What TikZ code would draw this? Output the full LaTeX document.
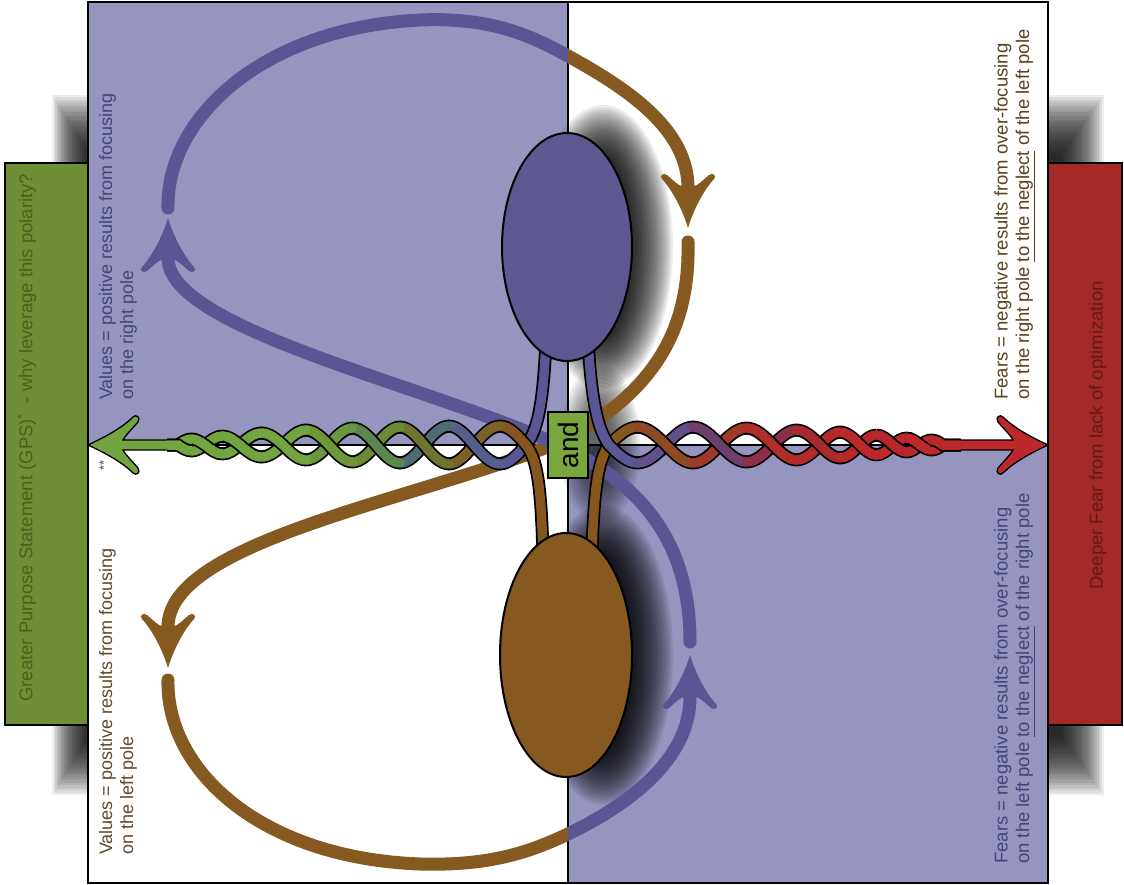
\documentclass[tikz,border=0pt]{standalone}
\usepackage{fontspec}
\setmainfont{Liberation Sans}
\usetikzlibrary{shapes.geometric}
\definecolor{lav}{HTML}{9695C0}
\definecolor{purp}{HTML}{5A5593}
\definecolor{purpE}{HTML}{5E5890}
\definecolor{brn}{HTML}{85591F}
\definecolor{grnbox}{HTML}{6F8F36}
\definecolor{grntxt}{HTML}{44641A}
\definecolor{redbox}{HTML}{A32A27}
\definecolor{redtxt}{HTML}{661A18}
\definecolor{andgrn}{HTML}{7AA63F}
\definecolor{txtP}{HTML}{45447A}
\definecolor{txtB}{HTML}{5E4A2C}
\definecolor{txtTR}{HTML}{5A4320}
\definecolor{LG}{HTML}{72A43F}
\definecolor{RR}{HTML}{BC282B}
\definecolor{LP0}{HTML}{5B5794}\definecolor{LP1}{HTML}{555F8C}\definecolor{LP2}{HTML}{4F6B74}
\definecolor{LP3}{HTML}{5C8550}\definecolor{LP4}{HTML}{6A9840}\definecolor{LP5}{HTML}{72A43F}
\definecolor{LB0}{HTML}{85571F}\definecolor{LB1}{HTML}{7A6228}\definecolor{LB2}{HTML}{6F7430}
\definecolor{LB3}{HTML}{6A8A35}\definecolor{LB4}{HTML}{6C9838}\definecolor{LB5}{HTML}{72A43F}
\definecolor{RP0}{HTML}{5B5794}\definecolor{RP1}{HTML}{61508A}\definecolor{RP2}{HTML}{6E3F6C}
\definecolor{RP3}{HTML}{8B3048}\definecolor{RP4}{HTML}{A62A30}\definecolor{RP5}{HTML}{B8282B}
\definecolor{RB0}{HTML}{85571F}\definecolor{RB1}{HTML}{8E4A24}\definecolor{RB2}{HTML}{A03A28}
\definecolor{RB3}{HTML}{AE2E2A}\definecolor{RB4}{HTML}{B5292B}\definecolor{RB5}{HTML}{BC282B}
\newcommand\braidpc[2]{\draw[line width=13pt, black, shorten <=-0.8pt, shorten >=-0.8pt] #2; \draw[line width=9.5pt, line cap=round, #1] #2;}
\newcommand\qtxt{\fontsize{18}{21}\selectfont}
\newcommand\rtxt{\fontsize{18.5}{21.5}\selectfont}
\newcommand\stxt{\fontsize{18.5}{21}\selectfont}
\tikzset{
  tulip/.pic={\fill (0,0) .. controls (-4,14) and (-14,36) .. (-26,49) .. controls (-29,52) and (-25,56) .. (-21,53) .. controls (-14,47) and (-9,42) .. (-6,42) -- (6,42) .. controls (9,42) and (14,47) .. (21,53) .. controls (25,56) and (29,52) .. (26,49) .. controls (14,36) and (4,14) .. (0,0) -- cycle;},
  loopline/.style={line width=13pt, line cap=round},
  sidetext/.style={rotate=90, anchor=north west, inner sep=0pt, align=left}
}
\begin{document}
\begin{tikzpicture}[x=1pt,y=-1pt]
\useasboundingbox (0,0) rectangle (1124,885);
% frame shadows
\foreach \i in {0,...,24}{
  \fill[black, opacity=0.07] (52+1.5*\i, 95+2.5*\i) rectangle (92, 795-2.5*\i);
  \fill[black, opacity=0.07] (1044, 95+2.5*\i) rectangle (1104-1.8*\i, 795-2.5*\i);
}
% side boxes
\draw[fill=grnbox, line width=1.5pt] (5,163) rectangle (90,725);
\draw[fill=redbox, line width=1.5pt] (1046,163) rectangle (1122,725);
% quadrants
\fill[white] (88,2) rectangle (1048,883);
\fill[lav] (88,2) rectangle (568,445);
\fill[lav] (568,445) rectangle (1048,883);
\draw[line width=1.5pt] (568,2) -- (568,883);
\draw[line width=1.5pt] (88,445) -- (1048,445);
\draw[line width=2.5pt] (88,2) rectangle (1048,883);
% soft shadows
\foreach \i in {0,...,23}{
  \fill[black, opacity=0.075] (603,247) ellipse [x radius=70-2*\i, y radius=142-2.5*\i];
  \fill[black, opacity=0.075] (603,655) ellipse [x radius=70-2*\i, y radius=150-2.5*\i];
}
\foreach \i in {0,...,11}{
  \fill[black, opacity=0.07] (600,445) ellipse [x radius=40-2.5*\i, y radius=80-4*\i];
}
% named arrow tips
\coordinate (tipA) at (168,218);
\coordinate (tipB) at (688,228);
\coordinate (tipC) at (168,668);
\coordinate (tipD) at (690,655);
% loops, colour changing at the centre line
\begin{scope}
\clip (0,0) rectangle (568,885);
\draw[loopline, purp] (168,208) .. controls (166,120) and (260,28) .. (420,20) .. controls (490,17) and (530,35) .. (568,56) .. controls (630,90) and (688,130) .. (688,188);
\draw[loopline, brn] (168,680) .. controls (166,770) and (260,858) .. (420,864) .. controls (490,866) and (530,852) .. (568,834) .. controls (628,805) and (690,760) .. (690,697);
\end{scope}
\begin{scope}
\clip (568,0) rectangle (1124,885);
\draw[loopline, brn] (168,208) .. controls (166,120) and (260,28) .. (420,20) .. controls (490,17) and (530,35) .. (568,56) .. controls (630,90) and (688,130) .. (688,188);
\draw[loopline, purp] (168,680) .. controls (166,770) and (260,858) .. (420,864) .. controls (490,866) and (530,852) .. (568,834) .. controls (628,805) and (690,760) .. (690,697);
\end{scope}
% diagonals
\draw[loopline, brn] (688,242) .. controls (690,330) and (655,390) .. (565,440) .. controls (420,500) and (168,540) .. (168,627);
\draw[loopline, purp] (690,642) .. controls (690,540) and (640,485) .. (565,448) .. controls (430,385) and (168,330) .. (168,258);
% braid arrow heads
\draw[fill=LG, line width=1.3pt] (88,445) .. controls (105,437) and (122,428) .. (133,417) .. controls (136,414) and (141,417) .. (138,422) .. controls (131,430) and (125,436) .. (123,440) -- (182,440) -- (182,450) -- (123,450) .. controls (125,454) and (131,460) .. (138,468) .. controls (141,473) and (136,476) .. (133,473) .. controls (122,462) and (105,453) .. (88,445) -- cycle;
\draw[fill=RR, line width=1.3pt] (1048,445) .. controls (1031,437) and (1014,428) .. (1003,417) .. controls (1000,414) and (995,417) .. (998,422) .. controls (1005,430) and (1011,436) .. (1013,440) -- (954,440) -- (954,450) -- (1013,450) .. controls (1011,454) and (1005,460) .. (998,468) .. controls (995,473) and (1000,476) .. (1003,473) .. controls (1014,462) and (1031,453) .. (1048,445) -- cycle;
% left braid
\braidpc{LP0}{(546,340) .. controls (543,412) and (536,432) .. (526,445) sin (500,464)}
\braidpc{LB0}{(543,555) .. controls (541,478) and (536,458) .. (526,445) sin (500,426)}
\braidpc{LB1}{(500,426) cos (474,445) sin (449,464)}
\braidpc{LP1}{(500,464) cos (474,445) sin (449,426)}
\braidpc{LP2}{(449,426) cos (424,445) sin (400,463)}
\braidpc{LB2}{(449,464) cos (424,445) sin (400,427)}
\braidpc{LB3}{(400,427) cos (376,445) sin (352.5,462)}
\braidpc{LP3}{(400,463) cos (376,445) sin (352.5,428)}
\braidpc{LP4}{(352.5,428) cos (329,445) sin (306,460)}
\braidpc{LB4}{(352.5,462) cos (329,445) sin (306,430)}
\braidpc{LB5}{(306,430) cos (283,445) sin (261.5,457)}
\braidpc{LP5}{(306,460) cos (283,445) sin (261.5,433)}
\braidpc{LP5}{(261.5,433) cos (240,445) sin (222.5,454)}
\braidpc{LB5}{(261.5,457) cos (240,445) sin (222.5,436)}
\braidpc{LB5}{(222.5,436) cos (205,445) sin (191.5,451)}
\braidpc{LP5}{(222.5,454) cos (205,445) sin (191.5,439)}
\braidpc{LP5}{(191.5,439) cos (178,445) -- (168,445)}
\braidpc{LB5}{(191.5,451) cos (178,445) -- (168,445)}
% right braid
\braidpc{RB0}{(592,555) .. controls (594,478) and (600,458) .. (609,445) sin (637.5,427)}
\braidpc{RP0}{(588,340) .. controls (592,412) and (600,432) .. (609,445) sin (637.5,463)}
\braidpc{RP1}{(637.5,463) cos (666,445) sin (693,427)}
\braidpc{RB1}{(637.5,427) cos (666,445) sin (693,463)}
\braidpc{RB2}{(693,463) cos (720,445) sin (746.5,428)}
\braidpc{RP2}{(693,427) cos (720,445) sin (746.5,462)}
\braidpc{RP3}{(746.5,462) cos (773,445) sin (796.5,430)}
\braidpc{RB3}{(746.5,428) cos (773,445) sin (796.5,460)}
\braidpc{RB4}{(796.5,460) cos (820,445) sin (840,432)}
\braidpc{RP4}{(796.5,430) cos (820,445) sin (840,458)}
\braidpc{RP5}{(840,458) cos (860,445) sin (876.5,435)}
\braidpc{RB5}{(840,432) cos (860,445) sin (876.5,455)}
\braidpc{RB5}{(876.5,455) cos (893,445) sin (906.5,438)}
\braidpc{RP5}{(876.5,435) cos (893,445) sin (906.5,452)}
\braidpc{RP5}{(906.5,452) cos (920,445) sin (931.5,440)}
\braidpc{RB5}{(906.5,438) cos (920,445) sin (931.5,450)}
\braidpc{RB5}{(931.5,450) cos (943,445) -- (960,445)}
\braidpc{RP5}{(931.5,440) cos (943,445) -- (960,445)}
% poles
\node[ellipse, draw, line width=2pt, fill=purpE, minimum width=130pt, minimum height=228pt, inner sep=0pt] (rightpole) at (567,247) {};
\node[ellipse, draw, line width=2pt, fill=brn, minimum width=132pt, minimum height=244pt, inner sep=0pt] (leftpole) at (566,655) {};
% and box
\node[rotate=90, draw, line width=1.5pt, fill=andgrn, minimum width=66pt, minimum height=40pt, inner sep=0pt, font=\fontsize{28}{28}\selectfont] (and) at (568,445) {and};
% loop arrowheads
\pic[purp] at (tipA) {tulip};
\pic[brn, rotate=180] at (tipB) {tulip};
\pic[brn, rotate=180] at (tipC) {tulip};
\pic[purp] at (tipD) {tulip};
% texts
\node[sidetext, text=txtP, font=\qtxt] (tlText) at (99,400) {Values = positive results from focusing\\on the right pole};
\node[sidetext, text=txtB, font=\qtxt] (blText) at (99,855) {Values = positive results from focusing\\on the left pole};
\node[sidetext, text=txtTR, font=\rtxt] (trText) at (994,400) {Fears = negative results from over-focusing\\on the right pole \underline{to the neglect} of the left pole};
\node[sidetext, text=txtP, font=\rtxt] (brText) at (994,864) {Fears = negative results from over-focusing\\on the left pole \underline{to the neglect} of the right pole};
\node[sidetext, text=grntxt, font=\stxt] (gps) at (17,702) {Greater Purpose Statement (GPS)\textsuperscript{*}\ \ - why leverage this polarity?};
\node[sidetext, text=redtxt, font=\stxt] (fear) at (1089,590) {Deeper Fear from lack of optimization};
\node[rotate=90, inner sep=0pt, text=txtB, font=\fontsize{13}{13}\selectfont] (stars) at (104,465) {**};
\end{tikzpicture}
\end{document}
